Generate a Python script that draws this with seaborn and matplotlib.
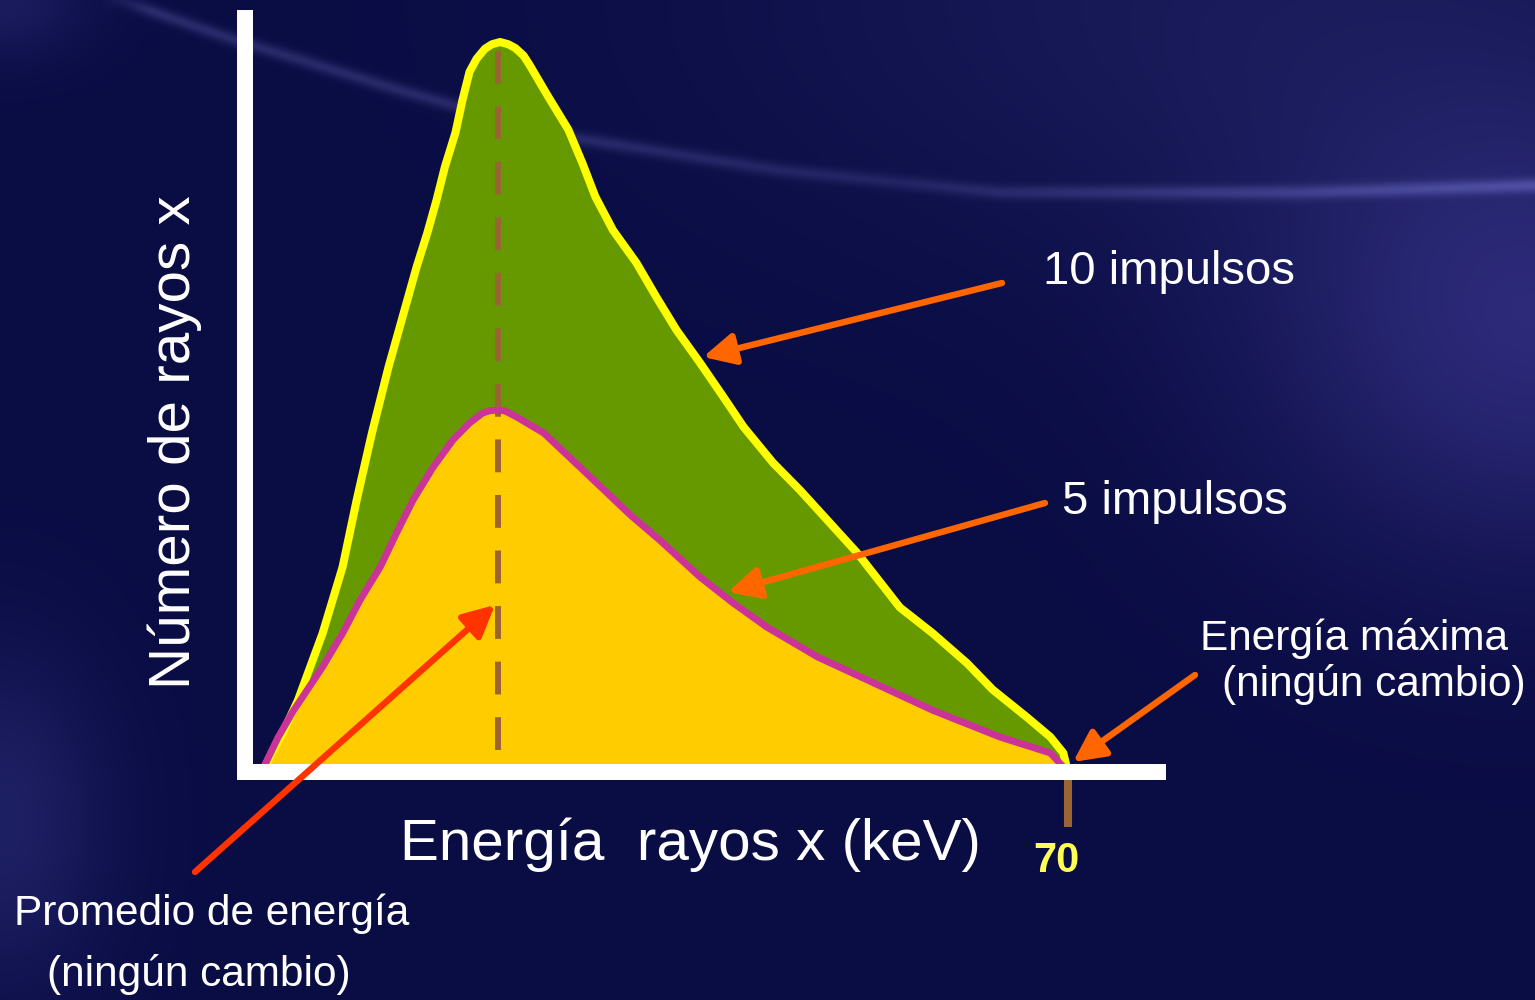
import numpy as np
import matplotlib
matplotlib.use("Agg")
import matplotlib.pyplot as plt
from matplotlib.transforms import ScaledTranslation
import seaborn as sns
import pandas as pd

# ---------------- data ----------------
kev_10 = [1.5, 2.3, 3.2, 4.5, 6.6, 8.3, 9.5, 10.8, 12.2, 13.8, 14.6, 15.5, 16.3, 17.0, 17.9,
          18.5, 19.1, 19.7, 20.4, 21.0, 21.7, 22.4, 23.0, 23.7, 24.2, 25.8, 27.5, 28.7, 29.8,
          31.3, 33.3, 35.0, 36.7, 38.7, 40.7, 42.4, 44.9, 47.2, 52.1, 55.7, 58.5, 61.4, 63.6,
          66.5, 68.5, 69.6, 70.0]
cnt_10 = [0.0, 2.6, 5.1, 9.4, 18.2, 26.9, 35.7, 44.5, 53.1, 61.9, 66.3, 70.7, 75.1, 79.4, 83.9,
          88.2, 91.9, 93.6, 94.9, 95.5, 95.8, 95.5, 95.0, 94.0, 92.8, 88.6, 84.3, 79.9, 75.5,
          71.1, 66.8, 62.3, 58.0, 53.7, 49.2, 45.3, 40.6, 37.0, 28.7, 21.6, 18.2, 14.3, 10.8,
          7.2, 4.6, 2.5, 0.0]

kev_5 = [1.4, 2.8, 4.1, 6.6, 8.3, 9.8, 11.5, 12.9, 14.3, 16.0, 17.7, 19.1, 20.2, 20.8, 21.4,
         22.1, 23.1, 25.4, 28.5, 32.8, 35.3, 38.7, 41.5, 44.4, 48.7, 52.9, 58.5, 64.2, 68.5, 70.0]
cnt_5 = [0.0, 4.5, 8.0, 13.8, 18.2, 22.6, 26.9, 31.4, 35.7, 40.0, 43.6, 45.8, 47.1, 47.4, 47.5,
         47.4, 46.6, 44.5, 40.0, 33.7, 30.4, 25.6, 22.2, 19.0, 15.1, 12.1, 8.1, 4.6, 2.5, 0.0]

mean_kev = 21.5
mean_line_y = [2.9, 95.4]
max_kev = 70
xtick_labels = ["70"]

xlabel = "Energía  rayos x (keV)"
ylabel = "Número de rayos x"

df10 = pd.DataFrame({"keV": kev_10, "n": cnt_10})
df5 = pd.DataFrame({"keV": kev_5, "n": cnt_5})

# ---------------- style ----------------
sns.set_theme(style="white")
plt.rcParams["font.family"] = ["Liberation Sans", "DejaVu Sans"]

W, H = 1535, 1000
fig = plt.figure(figsize=(W / 100, H / 100), dpi=100)


def fx(px):
    return px / W


def fy(py):
    return 1 - py / H


# ---------------- background ----------------
yy, xx = np.mgrid[0:H, 0:W].astype(float)
img = np.zeros((H, W, 3))
img[:] = np.array([10, 12, 68])


def glow(cx, cy, sx, sy, col):
    g = np.exp(-(((xx - cx) / sx) ** 2 + ((yy - cy) / sy) ** 2))
    return g[..., None] * np.array(col)[None, None, :]


img += glow(1535, 330, 280, 240, (32, 28, 50))
img += glow(1250, 0, 520, 260, (14, 14, 20))
img += glow(0, 820, 110, 170, (20, 20, 32))
img += glow(0, 0, 90, 60, (16, 16, 26))

# light streak
sx_pts = [120, 230, 400, 570, 780, 1000, 1300, 1535]
sy_pts = [0, 38, 90, 137, 170, 192, 192, 185]
cy = np.interp(xx[0], sx_pts, sy_pts)
amp = np.interp(xx[0], [100, 150, 600, 900, 1200, 1535], [0, 30, 26, 18, 32, 40])
streak = np.exp(-((yy - cy[None, :]) / 7.0) ** 2) * amp[None, :]
img += streak[..., None] * np.array([1.0, 1.0, 1.25])[None, None, :]
img = np.clip(img, 0, 255) / 255.0

bg = fig.add_axes([0, 0, 1, 1], zorder=-10)
bg.imshow(img, aspect="auto", interpolation="bilinear")
bg.axis("off")

# ---------------- main axes ----------------
ax = fig.add_axes([fx(245), fy(772), (1158 - 245) / W, (772 - 18) / H])
ax.set_facecolor("none")
ax.set_xlim(0, (1158 - 245) / 11.757)
ax.set_ylim(0, (772 - 18) / 7.62)

ax.fill_between(df10["keV"], df10["n"], color="#669900", lw=0, zorder=1)
ax.fill_between(df5["keV"], df5["n"], color="#FFCC00", lw=0, zorder=1.2)
ax.plot([mean_kev, mean_kev], mean_line_y, color="#996633", lw=4.3,
        dashes=(5.5, 3.8), zorder=1.5)
sns.lineplot(data=df10, x="keV", y="n", ax=ax, color="#FFFF00", lw=5.8,
             sort=False, solid_capstyle="round", solid_joinstyle="round", zorder=2)
sns.lineplot(data=df5, x="keV", y="n", ax=ax, color="#CC3399", lw=5.0,
             sort=False, solid_capstyle="round", solid_joinstyle="round", zorder=2.2)

for side in ["top", "right"]:
    ax.spines[side].set_visible(False)
for side in ["left", "bottom"]:
    sp = ax.spines[side]
    sp.set_visible(True)
    sp.set_color("white")
    sp.set_linewidth(11.5)
    sp.set_capstyle("projecting")
    sp.set_zorder(3)

ax.set_yticks([])
ax.set_xticks([max_kev])
ax.set_xticklabels(xtick_labels, fontfamily=["Liberation Sans Narrow", "Liberation Sans"],
                   fontweight="bold", color="#FFFF55", fontsize=30)
ax.tick_params(axis="x", bottom=True, length=39.6, width=5.8, color="#996633",
               direction="out", pad=10)
for lab in ax.get_xticklabels():
    lab.set_transform(lab.get_transform() + ScaledTranslation(-0.12, 0, fig.dpi_scale_trans))

ax.set_xlabel(xlabel, color="white", fontsize=42)
ax.set_ylabel(ylabel, color="white", fontsize=42)
ax.xaxis.set_label_coords((690 - 245) / 913, (772 - 817) / 754)
ax.yaxis.set_label_coords((202 - 245) / 913, (772 - 442) / 754)

# ---------------- annotations ----------------
txt = dict(color="white", va="baseline", ha="left")
fig.text(fx(1043), fy(284), "10 impulsos", fontsize=34, **txt)
fig.text(fx(1062), fy(514), "5 impulsos", fontsize=34, **txt)
fig.text(fx(1200), fy(650), "Energía máxima", fontsize=30.5, **txt)
fig.text(fx(1222), fy(696), "(ningún cambio)", fontsize=30.5, **txt)
fig.text(fx(14), fy(925), "Promedio de energía", fontsize=30.5, **txt)
fig.text(fx(47), fy(986), "(ningún cambio)", fontsize=30.5, **txt)


def arrow(tip, tail_px, color):
    ax.annotate("", xy=tip, xycoords="data",
                xytext=(fx(tail_px[0]), fy(tail_px[1])), textcoords="figure fraction",
                arrowprops=dict(arrowstyle="-|>,head_length=1.0,head_width=0.5",
                                color=color, lw=4.6, shrinkA=0, shrinkB=0,
                                mutation_scale=19),
                annotation_clip=False, zorder=4)


arrow((38.96, 54.46), (1002, 283), "#FF6600")
arrow((41.08, 23.62), (1045, 503), "#FF6600")
arrow((70.43, 1.31), (1195, 675), "#FF6600")
arrow((21.26, 21.92), (195, 872), "#FF3300")

fig.savefig("out.png", dpi=100)
